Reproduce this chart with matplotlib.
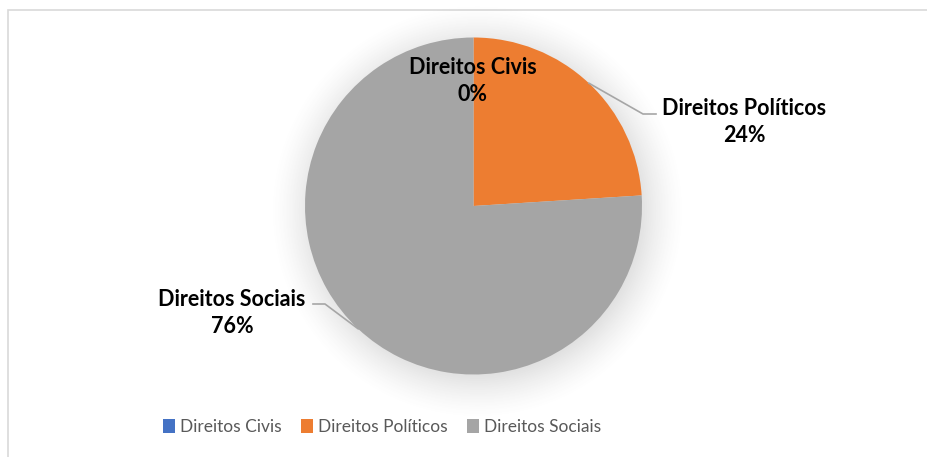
import numpy as np
import matplotlib.pyplot as plt
import matplotlib.patches as pc

# Chart data
categories = ['Direitos Civis', 'Direitos Políticos', 'Direitos Sociais']
shares = [0, 24, 76]
colors = ['#4472C4', '#ED7D31', '#A5A5A5']

W, H = 928, 457
fig = plt.figure(figsize=(W / 100, H / 100), dpi=100)
ax = fig.add_axes([0, 0, 1, 1])
ax.set_xlim(0, W)
ax.set_ylim(0, H)
ax.set_aspect('equal')
ax.axis('off')

# chart area border (runs off the right / bottom of the crop)
ax.add_patch(pc.Rectangle((8.5, -5), 940, H - 9.5 + 5, fill=False,
                          edgecolor='#D9D9D9', lw=1.2, zorder=0))

cx, cy, r = 473.5, H - 206, 168.5

# soft shadow behind the pie
gx = np.linspace(cx - r - 60, cx + r + 60, 400)
gy = np.linspace(cy - r - 60, cy + r + 60, 400)
XX, YY = np.meshgrid(gx, gy)
d = np.hypot(XX - cx - 4, YY - cy + 6)
fade = np.clip(1 - (d - r + 8) / 48.0, 0, 1) ** 1.5
rgba = np.zeros(XX.shape + (4,))
rgba[..., :3] = 0.35
rgba[..., 3] = 0.2 * fade
ax.imshow(rgba, extent=[gx[0], gx[-1], gy[0], gy[-1]], origin='lower',
          zorder=1, interpolation='bilinear')

wedges, _ = ax.pie(shares, colors=colors, startangle=90, counterclock=False,
                   center=(cx, cy), radius=r, frame=True,
                   wedgeprops=dict(linewidth=0, zorder=2))
ax.set_xlim(0, W)
ax.set_ylim(0, H)
ax.axis('off')

lab_font = dict(family=['Lato', 'DejaVu Sans'], fontweight='bold',
                fontsize=15.5, color='black', ha='center', va='center',
                linespacing=1.3, zorder=5)

def mid_point(w):
    a = np.deg2rad((w.theta1 + w.theta2) / 2)
    return cx + r * np.cos(a), cy + r * np.sin(a)

# Direitos Civis (no leader line, sits inside the top of the pie)
ax.text(473, H - 81, '%s\n%d%%' % (categories[0], shares[0]), **lab_font)

# Direitos Politicos with leader
px, py = mid_point(wedges[1])
ax.plot([px, 643, 656], [py, H - 114, H - 114], color='#A6A6A6', lw=1.2, zorder=4)
ax.text(744, H - 122, '%s\n%d%%' % (categories[1], shares[1]), **lab_font)

# Direitos Sociais with leader
sx, sy = mid_point(wedges[2])
ax.plot([313, 325, sx], [H - 304, H - 304, sy], color='#A6A6A6', lw=1.2, zorder=4)
ax.text(232, H - 313, '%s\n%d%%' % (categories[2], shares[2]), **lab_font)

handles = [pc.Patch(facecolor=c, edgecolor='none') for c in colors]
leg = fig.legend(handles, categories, ncol=3, loc='center',
                 bbox_to_anchor=(382 / W, 1 - 427 / H), frameon=False,
                 prop=dict(family=['Lato', 'DejaVu Sans'], size=12.5),
                 handlelength=0.7, handleheight=0.9, handletextpad=0.3,
                 columnspacing=1.1, labelcolor='#595959')

fig.savefig('out.png', dpi=100)
